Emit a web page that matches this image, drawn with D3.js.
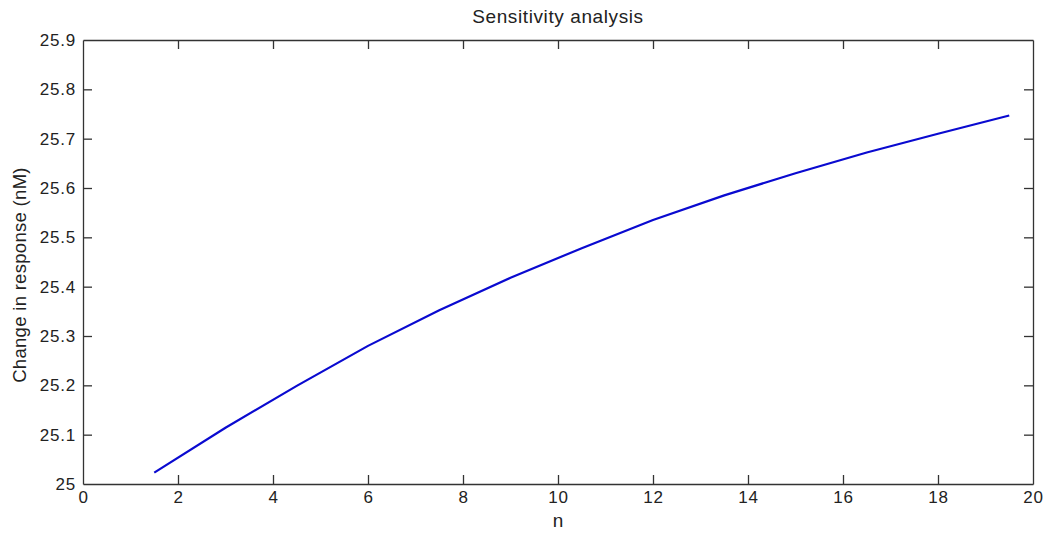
<!DOCTYPE html>
<html>
<head>
<meta charset="utf-8">
<script src="https://cdn.jsdelivr.net/npm/d3@7"></script>
<style>
  html, body { margin: 0; padding: 0; background: #fff; }
  svg { display: block; }
  text { font-family: "Liberation Sans", Arial, sans-serif; fill: #222; }
</style>
</head>
<body>
<svg id="chart" width="1046" height="535"></svg>
<script>
// Sensitivity of the response to the parameter n
const nValues = [1.5, 3, 4.5, 6, 7.5, 9, 10.5, 12, 13.5, 15, 16.5, 18, 19.5];
const responseValues = [25.023, 25.114, 25.199, 25.280, 25.352, 25.418, 25.478, 25.535, 25.585, 25.630, 25.672, 25.710, 25.747];
const xTicks = [0, 2, 4, 6, 8, 10, 12, 14, 16, 18, 20];
const yTicks = [25, 25.1, 25.2, 25.3, 25.4, 25.5, 25.6, 25.7, 25.8, 25.9];

const W = 1046, H = 535;
const margin = { left: 83, right: 13, top: 40, bottom: 51 };
const svg = d3.select("#chart");

const x = d3.scaleLinear().domain([0, 20]).range([margin.left, W - margin.right]);
const y = d3.scaleLinear().domain([25, 25.9]).range([H - margin.bottom, margin.top]);

const tickLen = 9;
const axisColor = "#333";

// bottom axis with labels, ticks pointing inward
const gx = svg.append("g")
  .attr("transform", `translate(0,${y(25)})`)
  .call(d3.axisBottom(x).tickValues(xTicks).tickFormat(d3.format("d"))
    .tickSizeInner(-tickLen).tickSizeOuter(0).tickPadding(6));
gx.selectAll("text").attr("font-size", 17).attr("letter-spacing", 0.8)
  .attr("dy", "0.75em").attr("y", 6);

// left axis with labels
const gy = svg.append("g")
  .attr("transform", `translate(${x(0)},0)`)
  .call(d3.axisLeft(y).tickValues(yTicks).tickFormat(d => d3.format("")(+d.toFixed(1)))
    .tickSizeInner(-tickLen).tickSizeOuter(0).tickPadding(7));
gy.selectAll("text").attr("font-size", 17).attr("letter-spacing", 0.8);

// top and right axes: ticks only
svg.append("g")
  .attr("transform", `translate(0,${y(25.9)})`)
  .call(d3.axisTop(x).tickValues(xTicks).tickFormat("").tickSizeInner(-tickLen).tickSizeOuter(0));
svg.append("g")
  .attr("transform", `translate(${x(20)},0)`)
  .call(d3.axisRight(y).tickValues(yTicks).tickFormat("").tickSizeInner(-tickLen).tickSizeOuter(0));

svg.selectAll(".domain").attr("stroke", axisColor).attr("stroke-width", 1.3);
svg.selectAll(".tick line").attr("stroke", axisColor).attr("stroke-width", 1.3);

// remove end ticks that sit on the box edges
svg.selectAll(".tick").filter(d => d === 0 || d === 20 || d === 25 || d === 25.9)
  .select("line").remove();

// data line
const line = d3.line()
  .x((d, i) => x(nValues[i]))
  .y(d => y(d));
svg.append("path")
  .datum(responseValues)
  .attr("d", line)
  .attr("fill", "none")
  .attr("stroke", "#0a0ad0")
  .attr("stroke-width", 2.2)
  .attr("stroke-linejoin", "round");

// title and axis labels
svg.append("text")
  .attr("x", (x(0) + x(20)) / 2).attr("y", 23)
  .attr("text-anchor", "middle").attr("font-size", 19).attr("letter-spacing", 0.6)
  .text("Sensitivity analysis");

svg.append("text")
  .attr("x", (x(0) + x(20)) / 2).attr("y", 527)
  .attr("text-anchor", "middle").attr("font-size", 19)
  .text("n");

svg.append("text")
  .attr("transform", `translate(26,${(y(25) + y(25.9)) / 2 + 13}) rotate(-90)`)
  .attr("text-anchor", "middle").attr("font-size", 18.5).attr("letter-spacing", 0.3)
  .text("Change in response (nM)");
</script>
</body>
</html>
